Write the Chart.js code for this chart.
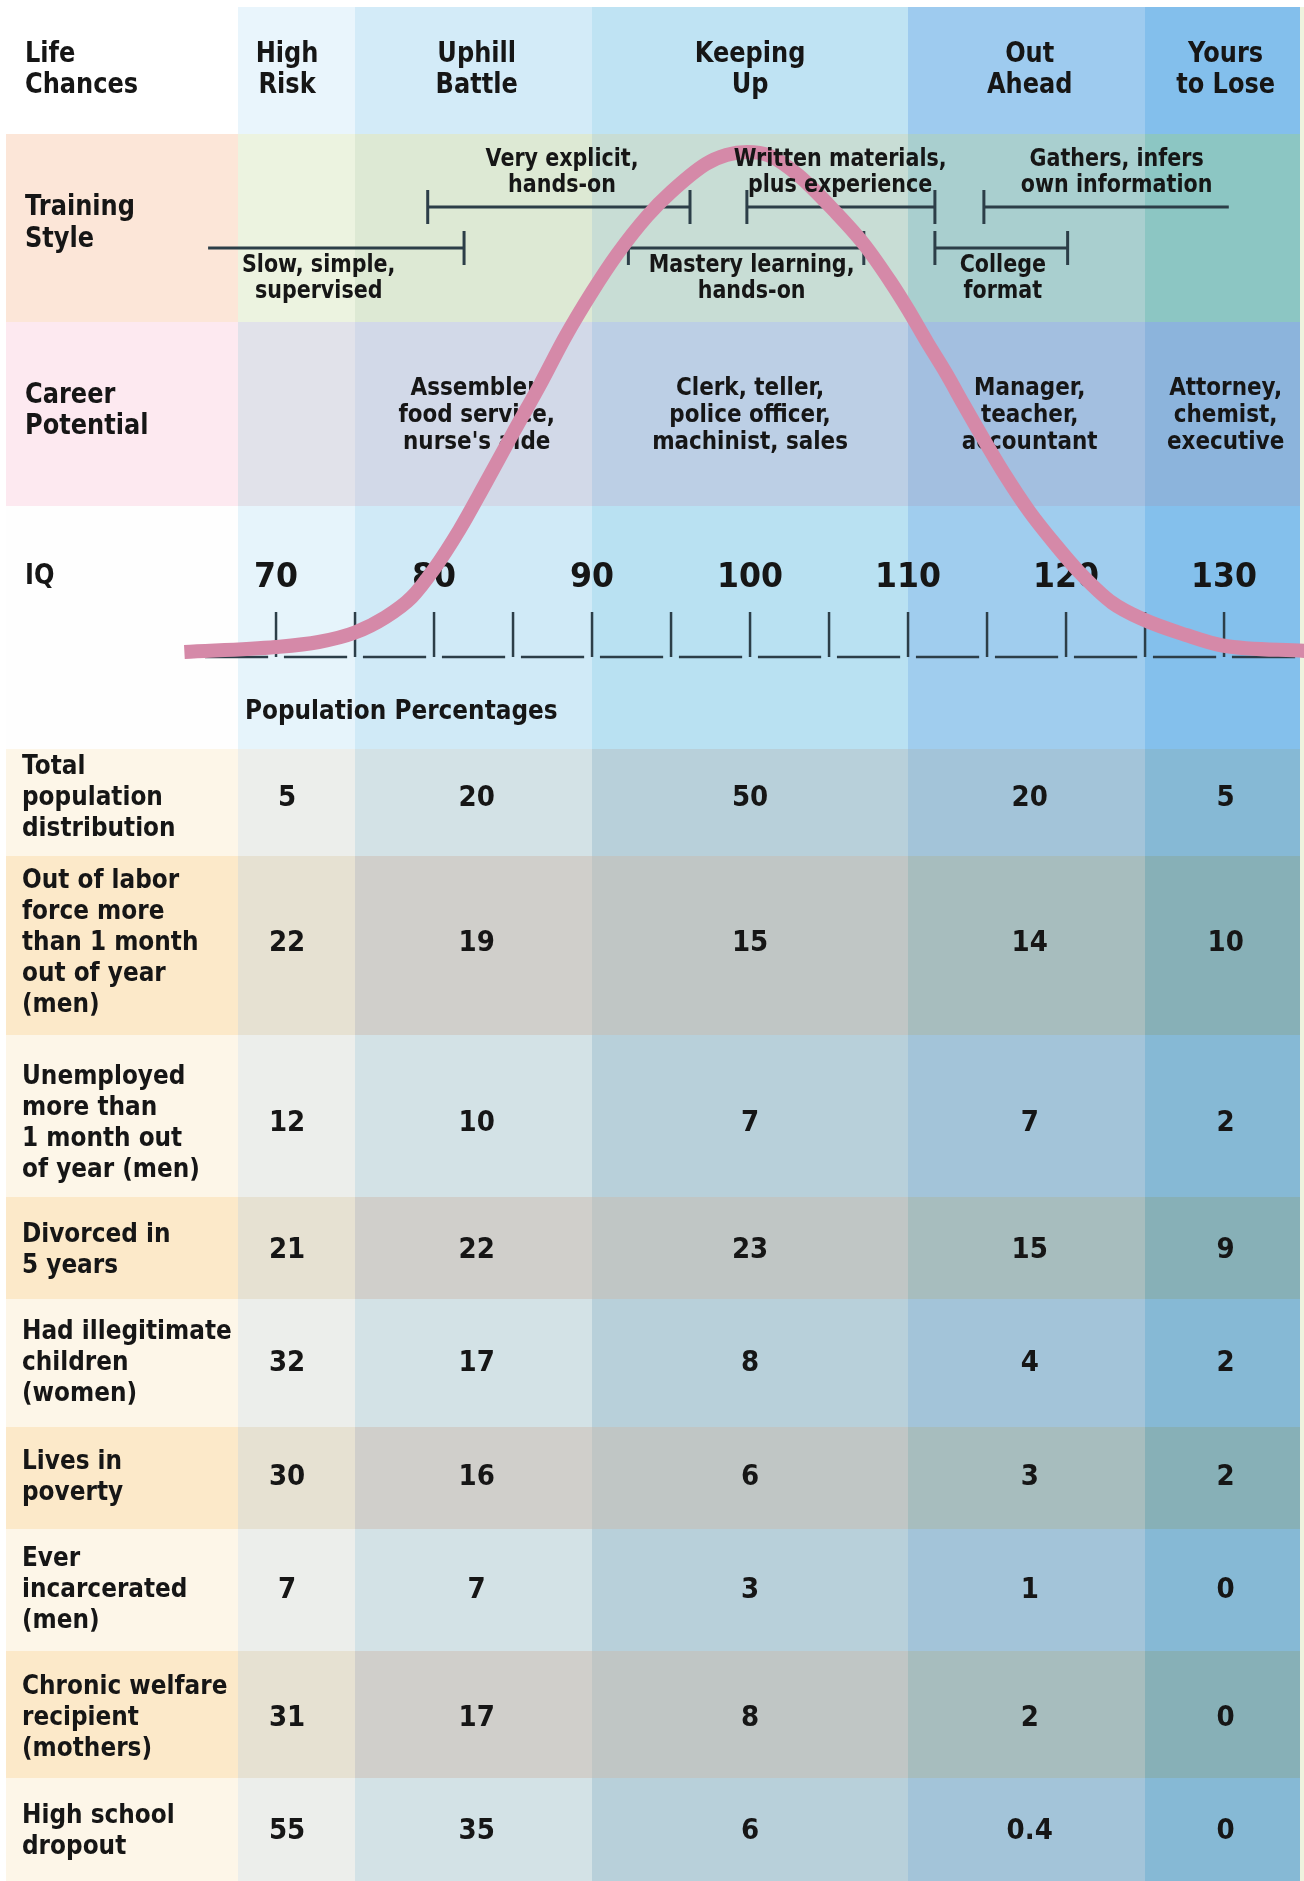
<!DOCTYPE html>
<html>
<head>
<meta charset="utf-8">
<script src="https://cdn.jsdelivr.net/npm/chart.js@4.4.1/dist/chart.umd.min.js"></script>
<style>
  html, body { margin: 0; padding: 0; background: #ffffff; }
  #wrap { width: 1304px; height: 1881px; position: relative; }
</style>
</head>
<body>
<div id="wrap"><canvas id="bellChart"></canvas></div>
<script>
// IQ bell curve (height as % of the peak)
var curveIQ = [64.2, 70, 72.7, 75, 76.9, 78.6, 80, 81.6, 83.2, 85, 86.7, 88.3, 90, 91.6, 93.5, 95, 97.2, 98.5, 99.8, 101.2, 103, 105.4, 107.2, 108.9, 110, 111.2, 112.4, 113.5, 114.7, 116.1, 117.7, 119.4, 120.8, 122.9, 124.9, 127.6, 129.9, 135.2];
var curveHeight = [0, 1, 2, 3.9, 6.9, 11, 16.6, 24.4, 33.4, 43.8, 53.4, 63, 72, 79.6, 87.2, 92, 97.6, 99.4, 100, 99.3, 95.5, 88, 81.6, 74, 68.5, 62, 55.8, 49.6, 43, 35.6, 28, 21.2, 16.1, 9.9, 6.5, 3.4, 1.3, 0.2];

// IQ axis
var iqTicks = [70, 75, 80, 85, 90, 95, 100, 105, 110, 115, 120, 125, 130];
var iqLabels = [70, 80, 90, 100, 110, 120, 130];

// IQ bands (column edges) and where each group's text sits
var bandEdgesIQ = [52.9, 67.6, 75, 90, 110, 125, 134.8];
var groupCenterIQ = [70.7, 82.7, 100, 117.7, 130.1];
var groupNames = [['High', 'Risk'], ['Uphill', 'Battle'], ['Keeping', 'Up'], ['Out', 'Ahead'], ['Yours', 'to Lose']];
var careers = [[], ['Assembler,', 'food service,', "nurse's aide"], ['Clerk, teller,', 'police officer,', 'machinist, sales'], ['Manager,', 'teacher,', 'accountant'], ['Attorney,', 'chemist,', 'executive']];

// Training style ranges (IQ)
var trainText = [['Slow, simple,', 'supervised'], ['Very explicit,', 'hands-on'], ['Mastery learning,', 'hands-on'], ['Written materials,', 'plus experience'], ['College', 'format'], ['Gathers, infers', 'own information']];
var trainFrom = [65.7, 79.6, 92.3, 99.8, 111.7, 114.8];
var trainTo = [81.9, 96.2, 107.2, 111.7, 120.1, 130.3];
var trainTextIQ = [72.7, 88.1, 100.1, 105.7, 116.0, 123.2];
var trainUpper = [false, true, false, true, false, true];
var trainStartTick = [false, true, true, true, true, true];
var trainEndTick = [true, true, true, true, true, false];

// Population percentages
var rowLabels = [
    ['Total', 'population', 'distribution'],
    ['Out of labor', 'force more', 'than 1 month', 'out of year', '(men)'],
    ['Unemployed', 'more than', '1 month out', 'of year (men)'],
    ['Divorced in', '5 years'],
    ['Had illegitimate', 'children', '(women)'],
    ['Lives in', 'poverty'],
    ['Ever', 'incarcerated', '(men)'],
    ['Chronic welfare', 'recipient', '(mothers)'],
    ['High school', 'dropout']
];
var highRisk = [5, 22, 12, 21, 32, 30, 7, 31, 55];
var uphillBattle = [20, 19, 10, 22, 17, 16, 7, 17, 35];
var keepingUp = [50, 15, 7, 23, 8, 6, 3, 8, 6];
var outAhead = [20, 14, 7, 15, 4, 3, 1, 2, 0.4];
var yoursToLose = [5, 10, 2, 9, 2, 2, 0, 0, 0];
var groupValues = [highRisk, uphillBattle, keepingUp, outAhead, yoursToLose];

// layout (pixels)
var rowEdges = [7, 134, 322, 506, 749, 856, 1035, 1197, 1299, 1427, 1529, 1651, 1778, 1881];
var rowKinds = ['head', 'train', 'career', 'iq', 'light', 'dark', 'light', 'dark', 'light', 'dark', 'light', 'dark', 'light'];
var rowTextY = [798, 943, 1123, 1250, 1363, 1477, 1590, 1718, 1831];
var palette = {
    head:   ['#ffffff', '#e9f5fc', '#d3ebf8', '#bfe3f3', '#9ecbef', '#83bfec'],
    train:  ['#fce6d8', '#ecf3e0', '#dde9d4', '#c8ddd5', '#a9cfcf', '#8cc6c3'],
    career: ['#fde9f0', '#e1e2ea', '#d2d9e8', '#bccfe5', '#a3bfe0', '#8cb4dc'],
    iq:     ['#fefefe', '#e6f4fb', '#d0eaf7', '#b9e1f2', '#a0cdee', '#84c0ec'],
    light:  ['#fdf6e8', '#eceeeb', '#d3e2e6', '#b8d0da', '#a3c4d9', '#86b9d5'],
    dark:   ['#fce9c9', '#e6e1d2', '#d0cfcb', '#c0c6c5', '#a7bdbe', '#87b0b7']
};
var FONT = '"DejaVu Sans", "Liberation Sans", sans-serif';
var INK = '#161616';
var RULE = '#2c3e48';

function drawText(ctx, s, x, y, size, align, sx) {
    ctx.save();
    ctx.font = 'bold ' + size + 'px ' + FONT;
    ctx.textBaseline = 'middle';
    ctx.textAlign = align;
    ctx.fillStyle = INK;
    ctx.translate(x, y);
    ctx.scale(sx || 0.86, 1);
    ctx.fillText(s, 0, 0);
    ctx.restore();
}

function line(ctx, x1, y1, x2, y2, w) {
    ctx.beginPath();
    ctx.moveTo(x1, y1);
    ctx.lineTo(x2, y2);
    ctx.lineWidth = w;
    ctx.strokeStyle = RULE;
    ctx.stroke();
}

var infographic = {
    id: 'infographic',
    beforeDatasetsDraw: function (chart) {
        var ctx = chart.ctx;
        var xs = chart.scales.x;
        var X = function (v) { return xs.getPixelForValue(v); };

        // cells
        ctx.save();
        ctx.fillStyle = '#ffffff';
        ctx.fillRect(0, 0, chart.width, chart.height);
        for (var r = 0; r < rowKinds.length; r++) {
            var cols = palette[rowKinds[r]];
            for (var c = 0; c < cols.length; c++) {
                var x0 = Math.round(X(bandEdgesIQ[c]));
                var x1 = Math.round(X(bandEdgesIQ[c + 1]));
                ctx.fillStyle = cols[c];
                ctx.fillRect(x0, rowEdges[r], x1 - x0, rowEdges[r + 1] - rowEdges[r]);
            }
        }
        ctx.fillStyle = '#eef3de';
        ctx.fillRect(Math.round(X(bandEdgesIQ[6])), rowEdges[0], 6, chart.height);
        ctx.restore();

        // training-style range bars
        ctx.save();
        ctx.lineCap = 'butt';
        for (var i = 0; i < trainFrom.length; i++) {
            var ly = trainUpper[i] ? 207 : 248;
            var a = X(trainFrom[i]), b = X(trainTo[i]);
            line(ctx, a, ly, b, ly, 3);
            if (trainStartTick[i]) line(ctx, a, ly - 17, a, ly + 17, 3);
            if (trainEndTick[i]) line(ctx, b, ly - 17, b, ly + 17, 3);
        }
        ctx.restore();

        // IQ axis: ticks and baseline pieces
        ctx.save();
        for (var t = 0; t < iqTicks.length; t++) {
            var tx = X(iqTicks[t]);
            line(ctx, tx, 612, tx, 657, 2.5);
        }
        var stops = [65].concat(iqTicks).concat([135]);
        for (var s = 0; s < stops.length - 1; s++) {
            line(ctx, X(stops[s] + 0.5), 657, X(stops[s + 1] - 0.5), 657, 2.5);
        }
        ctx.restore();

        // left labels
        drawText(ctx, 'Life', 25, 55, 28, 'left');
        drawText(ctx, 'Chances', 25, 86, 28, 'left');
        drawText(ctx, 'Training', 25, 208, 28, 'left');
        drawText(ctx, 'Style', 25, 240, 28, 'left');
        drawText(ctx, 'Career', 25, 396, 28, 'left');
        drawText(ctx, 'Potential', 25, 427, 28, 'left');
        drawText(ctx, 'IQ', 25, 577, 28, 'left');
        drawText(ctx, 'Population Percentages', 245, 712, 27, 'left');

        // group headers and careers
        for (var g = 0; g < groupNames.length; g++) {
            var gx = X(groupCenterIQ[g]);
            drawText(ctx, groupNames[g][0], gx, 55, 28, 'center');
            drawText(ctx, groupNames[g][1], gx, 86, 28, 'center');
            for (var k = 0; k < careers[g].length; k++) {
                drawText(ctx, careers[g][k], gx, 388 + k * 27, 25, 'center');
            }
        }

        // IQ numbers
        for (var q = 0; q < iqLabels.length; q++) {
            drawText(ctx, String(iqLabels[q]), X(iqLabels[q]), 578, 34, 'center', 0.93);
        }

        // table
        for (var row = 0; row < rowLabels.length; row++) {
            var lines = rowLabels[row];
            var top = rowTextY[row] - (lines.length - 1) * 31 / 2;
            for (var m = 0; m < lines.length; m++) {
                drawText(ctx, lines[m], 22, top + m * 31, 27, 'left');
            }
            for (var gi = 0; gi < groupValues.length; gi++) {
                drawText(ctx, String(groupValues[gi][row]), X(groupCenterIQ[gi]), rowTextY[row], 29, 'center', 0.9);
            }
        }
    },
    afterDatasetsDraw: function (chart) {
        var ctx = chart.ctx;
        var xs = chart.scales.x;
        for (var i = 0; i < trainText.length; i++) {
            var tx = xs.getPixelForValue(trainTextIQ[i]);
            var y0 = trainUpper[i] ? 160 : 266;
            drawText(ctx, trainText[i][0], tx, y0, 24, 'center');
            drawText(ctx, trainText[i][1], tx, y0 + 26, 24, 'center');
        }
    }
};

document.addEventListener('DOMContentLoaded', function () {
    var points = curveIQ.map(function (iq, i) { return { x: iq, y: curveHeight[i] }; });
    new Chart(document.getElementById('bellChart'), {
        type: 'line',
        data: {
            datasets: [{
                label: 'Population',
                data: points,
                borderColor: '#d589a8',
                borderWidth: 14,
                borderCapStyle: 'butt',
                borderJoinStyle: 'round',
                pointRadius: 0,
                fill: false,
                cubicInterpolationMode: 'monotone'
            }]
        },
        options: {
            responsive: true,
            maintainAspectRatio: false,
            animation: false,
            devicePixelRatio: 1,
            layout: { padding: 0 },
            plugins: {
                legend: { display: false },
                tooltip: { enabled: false }
            },
            scales: {
                x: { type: 'linear', min: 52.53, max: 135.06, display: false },
                y: { type: 'linear', min: -245.8, max: 130.4, display: false }
            }
        },
        plugins: [infographic]
    });
});
</script>
</body>
</html>
